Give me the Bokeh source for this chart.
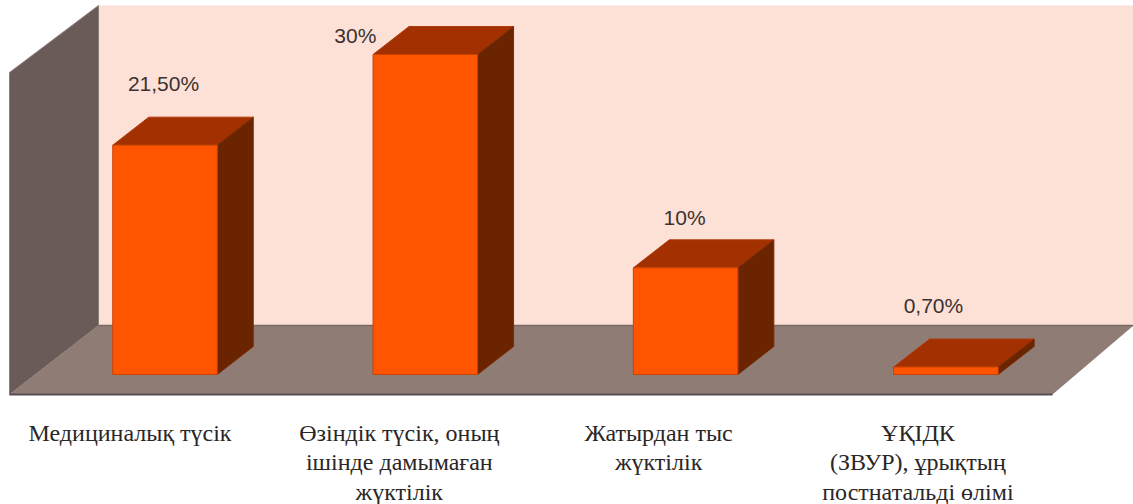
import numpy as np
from bokeh.embed import file_html
from bokeh.resources import INLINE
from bokeh.plotting import figure
from bokeh.core.properties import value

# Chart content
labels = [
    "Медициналық түсік",
    "Өзіндік түсік, оның\nішінде дамымаған\nжүктілік",
    "Жатырдан тыс\nжүктілік",
    "ҰҚІДК\n(ЗВУР), ұрықтың\nпостнатальді өлімі",
]
values = [21.5, 30.0, 10.0, 0.7]
value_texts = ["21,50%", "30%", "10%", "0,70%"]

# Canvas and scale geometry, in pixels
W, H = 1133, 504
BASE_PX = 374.0        # pixel row of value 0 on the bars' front face
PX_PER_UNIT = 320 / 30  # vertical pixels per percentage point
FIRST_PX = 164.5       # pixel column of the first category centre
STEP_PX = 260.3        # pixels between category centres
BAR_PX = 104.5         # front face width
DEPTH_X_PX, DEPTH_Y_PX = 36.0, 28.0  # oblique projection of a bar's depth


def xu(px):
    return (np.asarray(px, dtype=float) - FIRST_PX) / STEP_PX


def yu(px):
    return (BASE_PX - np.asarray(px, dtype=float)) / PX_PER_UNIT


p = figure(
    width=W, height=H, output_backend="svg", toolbar_location=None,
    x_range=(float(xu(0)), float(xu(W))), y_range=(float(yu(H)), float(yu(0))),
    min_border=0, outline_line_color=None, background_fill_color="white",
)
p.axis.visible = False
p.grid.visible = False

# Chart box: back wall, left wall and floor
back = dict(l=98, r=1133, t=5, b=325)
front = dict(l=9, r=1052, t=72, b=394)
p.patch(xu([back["l"], back["r"], back["r"], back["l"]]),
        yu([back["t"], back["t"], back["b"], back["b"]]),
        fill_color="#FDE0D6", line_color=None)
p.patch(xu([front["l"], back["l"], back["l"], front["l"]]),
        yu([front["t"], back["t"], back["b"], front["b"]]),
        fill_color="#6B5B58", line_color="#8A7E7B", line_width=1)
p.patch(xu([front["l"], back["l"], back["r"], front["r"]]),
        yu([front["b"], back["b"], back["b"], front["b"]]),
        fill_color="#8F7D75", line_color=None)
p.line(xu([back["l"], back["r"]]), yu([back["b"], back["b"]]),
       line_color="#7A6A63", line_width=1.5)
p.line(xu([front["l"], front["r"]]), yu([front["b"], front["b"]]),
       line_color="#555050", line_width=2)

# Bars: front face, top and side, each derived from its value
half = BAR_PX / 2 / STEP_PX
dx = DEPTH_X_PX / STEP_PX
dy = DEPTH_Y_PX / PX_PER_UNIT
for i, v in enumerate(values):
    l, r = i - half, i + half
    p.patch([l, r, r + dx, l + dx], [v, v, v + dy, v + dy],
            fill_color="#A33000", line_color="#B23A08", line_width=1)
    p.patch([r, r + dx, r + dx, r], [0, dy, v + dy, v],
            fill_color="#6B2400", line_color="#7A2C06", line_width=1)
    p.quad(left=l, right=r, bottom=0, top=v,
           fill_color="#FF5500", line_color="#C84300", line_width=1)

# Value labels sit above their bars; offsets are in screen pixels
label_dx = [-1.5, -70.0, -1.0, -12.5]
label_dy = [-62, -19, -50, -62]
p.text(x=list(range(4)), y=values, text=value_texts,
       x_offset=label_dx, y_offset=label_dy,
       text_font=value("Liberation Sans"), text_font_size="21px",
       text_color="#3A3230", text_align="center", text_baseline="middle")

# Category labels, drawn line by line below the floor
LINE_PX = 29.5
FIRST_LINE_PX = 432.0
label_shift = [-35, -26, -27, -28]
for i, lab in enumerate(labels):
    for j, line in enumerate(lab.split("\n")):
        p.text(x=[i], y=[float(yu(FIRST_LINE_PX + j * LINE_PX))], text=[line],
               x_offset=label_shift[i],
               text_font=value("Liberation Serif"), text_font_size="24px",
               text_color="#2A2626", text_align="center", text_baseline="middle")

open("out.html", "w").write(file_html(p, INLINE))
